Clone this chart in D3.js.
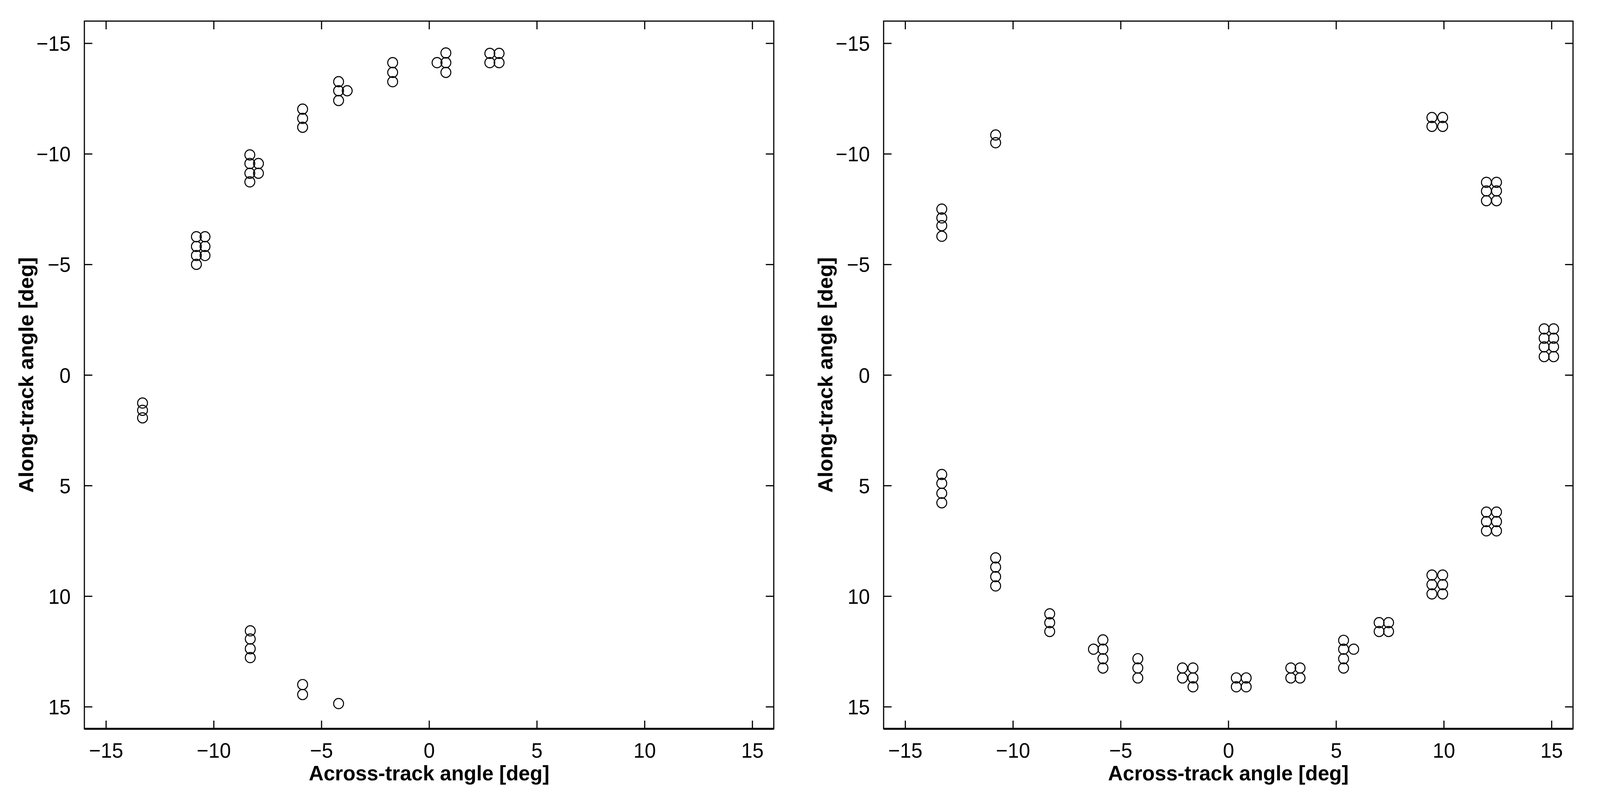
<!DOCTYPE html>
<html>
<head>
<meta charset="utf-8">
<script src="https://cdn.jsdelivr.net/npm/d3@7"></script>
<style>
  html, body { margin: 0; padding: 0; background: #fff; overflow: hidden; }
  svg { display: block; width: 100vw; height: 100vh; }
  svg text { font-family: "Liberation Sans", Arial, sans-serif; fill: #000; }
</style>
</head>
<body>
<div id="chart"></div>
<script>
// Beam positions [across-track, along-track] in degrees
const leftAcross = [
  2.82, 3.25, 2.82, 3.25,
  0.78, 0.37, 0.78, 0.78,
  -1.69, -1.69, -1.69,
  -4.2, -4.2, -3.8, -4.2,
  -5.87, -5.87, -5.87,
  -8.32, -8.32, -7.92, -8.32, -7.92, -8.32,
  -10.8, -10.4, -10.8, -10.4, -10.8, -10.4, -10.8,
  -13.3, -13.3, -13.3,
  -8.3, -8.3, -8.3, -8.3,
  -5.87, -5.87,
  -4.2
];
const leftAlong = [
  -14.54, -14.54, -14.12, -14.12,
  -14.56, -14.12, -14.12, -13.68,
  -14.12, -13.68, -13.26,
  -13.26, -12.85, -12.85, -12.41,
  -12.02, -11.6, -11.2,
  -9.95, -9.56, -9.56, -9.12, -9.12, -8.73,
  -6.25, -6.25, -5.81, -5.81, -5.4, -5.4, -5.0,
  1.27, 1.6, 1.94,
  11.57, 11.94, 12.38, 12.78,
  14.0, 14.45,
  14.86
];

const rightAcross = [
  -13.3, -13.3, -13.3, -13.3,
  -10.8, -10.8,
  9.45, 9.95, 9.45, 9.95,
  11.98, 12.45, 11.98, 12.45, 11.98, 12.45,
  14.66, 15.1, 14.66, 15.1, 14.66, 15.1, 14.66, 15.1,
  -13.3, -13.3, -13.3, -13.3,
  -10.8, -10.8, -10.8, -10.8,
  -8.29, -8.29, -8.29,
  -5.82, -5.82, -6.26, -5.82, -5.82,
  -4.2, -4.2, -4.2,
  -2.13, -1.64, -2.13, -1.64, -1.64,
  0.37, 0.83, 0.37, 0.83,
  2.9, 3.33, 2.9, 3.33,
  5.35, 5.35, 5.82, 5.35, 5.35,
  7.0, 7.44, 7.0, 7.44,
  9.45, 9.95, 9.45, 9.95, 9.45, 9.95,
  11.98, 12.45, 11.98, 12.45, 11.98, 12.45
];
const rightAlong = [
  -7.5, -7.1, -6.75, -6.27,
  -10.85, -10.5,
  -11.64, -11.64, -11.24, -11.24,
  -8.71, -8.71, -8.32, -8.32, -7.88, -7.88,
  -2.08, -2.08, -1.66, -1.66, -1.27, -1.27, -0.83, -0.83,
  4.5, 4.9, 5.35, 5.78,
  8.27, 8.69, 9.12, 9.54,
  10.8, 11.2, 11.6,
  11.98, 12.4, 12.4, 12.83, 13.25,
  12.83, 13.25, 13.7,
  13.25, 13.25, 13.7, 13.7, 14.1,
  13.7, 13.7, 14.1, 14.1,
  13.25, 13.25, 13.7, 13.7,
  12.0, 12.4, 12.4, 12.83, 13.25,
  11.2, 11.2, 11.6, 11.6,
  9.05, 9.05, 9.48, 9.48, 9.9, 9.9,
  6.2, 6.2, 6.63, 6.63, 7.05, 7.05
];

const tickValues = [-15, -10, -5, 0, 5, 10, 15];
const xTitle = 'Across-track angle [deg]';
const yTitle = 'Along-track angle [deg]';

const W = 4210, H = 2079;
const svg = d3.select('#chart').append('svg')
    .attr('viewBox', `0 0 ${W} ${H}`)
    .attr('preserveAspectRatio', 'none');

function drawPanel(left, across, along) {
    const top = 54, bottom = 1866, width = 1814;
    const x = d3.scaleLinear().domain([-16, 16]).range([left, left + width]);
    const y = d3.scaleLinear().domain([-16, 16]).range([top, bottom]);
    const g = svg.append('g');
    const tick = 21;

    // axes with inward ticks on all four sides
    const bx = g.append('g').attr('transform', `translate(0,${bottom})`)
        .call(d3.axisBottom(x).tickValues(tickValues).tickSizeInner(-tick).tickSizeOuter(0).tickPadding(36));
    const tx = g.append('g').attr('transform', `translate(0,${top})`)
        .call(d3.axisTop(x).tickValues(tickValues).tickSizeInner(-tick).tickSizeOuter(0).tickFormat(''));
    const ly = g.append('g').attr('transform', `translate(${left},0)`)
        .call(d3.axisLeft(y).tickValues(tickValues).tickSizeInner(-tick).tickSizeOuter(0).tickPadding(36));
    const ry = g.append('g').attr('transform', `translate(${left + width},0)`)
        .call(d3.axisRight(y).tickValues(tickValues).tickSizeInner(-tick).tickSizeOuter(0).tickFormat(''));
    [bx, tx, ly, ry].forEach(a => {
        a.selectAll('.domain').remove();
        a.selectAll('line').attr('stroke', '#000').attr('stroke-width', 3);
        a.selectAll('text').style('font-size', '53px').attr('fill', '#000');
    });
    ly.selectAll('text').attr('dy', '0.36em');

    g.append('rect')
        .attr('x', left).attr('y', top)
        .attr('width', width).attr('height', bottom - top)
        .attr('fill', 'none').attr('stroke', '#000').attr('stroke-width', 3);
    g.append('line')
        .attr('x1', left).attr('x2', left + width)
        .attr('y1', bottom).attr('y2', bottom)
        .attr('stroke', '#000').attr('stroke-width', 5);

    g.selectAll('circle.pt')
        .data(d3.range(across.length))
        .enter().append('circle')
        .attr('class', 'pt')
        .attr('cx', i => x(across[i]))
        .attr('cy', i => y(along[i]))
        .attr('r', 13)
        .attr('fill', 'none')
        .attr('stroke', '#000')
        .attr('stroke-width', 2.7);

    g.append('text')
        .attr('x', left + width / 2).attr('y', 1998)
        .attr('text-anchor', 'middle')
        .style('font-size', '54px').style('font-weight', 'bold')
        .text(xTitle);
    g.append('text')
        .attr('transform', `translate(${left - 135},${(top + bottom) / 2}) rotate(-90)`)
        .attr('text-anchor', 'middle')
        .style('font-size', '54px').style('font-weight', 'bold')
        .text(yTitle);
}

drawPanel(222, leftAcross, leftAlong);
drawPanel(2325, rightAcross, rightAlong);
</script>
</body>
</html>
